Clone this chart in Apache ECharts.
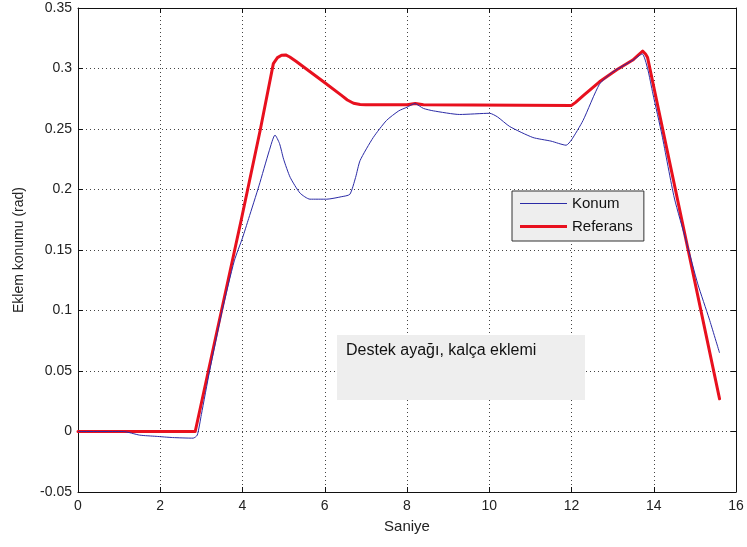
<!DOCTYPE html>
<html>
<head>
<meta charset="utf-8">
<script src="https://cdn.jsdelivr.net/npm/echarts@6/dist/echarts.min.js"></script>
<style>
  html, body { margin: 0; padding: 0; background: #ffffff; }
  #chart { width: 747px; height: 547px; }
</style>
</head>
<body>
<div id="chart"></div>
<script>
// Joint angle (rad) over time (s): measured position vs. reference trajectory
const konumTime = [0, 1.1, 1.5, 1.9, 2.3, 2.8, 2.9, 3.0, 3.2, 3.5, 3.8, 4.0, 4.15, 4.4, 4.65, 4.79, 4.9, 5.0, 5.16, 5.4, 5.64, 6.05, 6.4, 6.61, 6.75, 6.86, 7.18, 7.5, 7.8, 8.0, 8.19, 8.4, 8.64, 9.28, 10.01, 10.2, 10.5, 11.06, 11.5, 11.87, 12.0, 12.28, 12.68, 13.0, 13.5, 13.72, 13.85, 13.98, 14.2, 14.5, 14.8, 15.07, 15.35, 15.6];
const konumValue = [0, 0, -0.003, -0.004, -0.005, -0.0055, -0.003, 0.014, 0.05, 0.099, 0.141, 0.16, 0.176, 0.203, 0.232, 0.245, 0.238, 0.225, 0.21, 0.197, 0.192, 0.192, 0.194, 0.196, 0.21, 0.224, 0.243, 0.257, 0.265, 0.268, 0.271, 0.267, 0.265, 0.262, 0.263, 0.26, 0.252, 0.243, 0.24, 0.2366, 0.241, 0.257, 0.287, 0.297, 0.307, 0.312, 0.3, 0.279, 0.245, 0.193, 0.156, 0.122, 0.093, 0.065];

const referansTime = [0, 2.85, 3.97, 4.43, 4.75, 4.85, 4.95, 5.05, 5.15, 5.3, 5.97, 6.4, 6.55, 6.7, 6.86, 7.0, 8.0, 8.2, 8.4, 12.0, 12.1, 12.3, 12.68, 13.1, 13.49, 13.65, 13.73, 13.8, 13.85, 15.6];
const referansValue = [0, 0, 0.175, 0.249, 0.304, 0.309, 0.311, 0.3112, 0.3095, 0.306, 0.289, 0.278, 0.274, 0.2713, 0.2703, 0.27, 0.27, 0.271, 0.27, 0.2695, 0.272, 0.278, 0.289, 0.299, 0.307, 0.312, 0.3144, 0.312, 0.309, 0.027];

const xTicks = { min: 0, max: 16, step: 2 };
const yTicks = { min: -0.05, max: 0.35, step: 0.05 };

const seriesNames = ['Konum', 'Referans'];
const xTitle = 'Saniye';
const yTitle = 'Eklem konumu (rad)';
const noteText = 'Destek ayağı, kalça eklemi';

const pair = (xs, ys) => xs.map((x, i) => [x, ys[i]]);
const fmt = v => String(Number(v.toFixed(2)));

const font = '"Liberation Sans", Arial, sans-serif';
const axisColor = '#111111';
const blue = '#2b2ba6';
const red = '#e8101e';

function xAxis(primary) {
  return {
    type: 'value',
    position: primary ? 'bottom' : 'top',
    min: xTicks.min, max: xTicks.max, interval: xTicks.step,
    name: primary ? xTitle : '',
    nameLocation: 'middle',
    nameGap: 27,
    nameTextStyle: { fontFamily: font, fontSize: 15, color: '#222' },
    axisLine: { show: true, onZero: false, lineStyle: { color: axisColor, width: 1 } },
    axisTick: { show: true, inside: true, length: 5, lineStyle: { color: axisColor } },
    axisLabel: { show: primary, margin: 7, fontFamily: font, fontSize: 14, color: '#222', formatter: fmt },
    splitLine: primary ? { show: true, lineStyle: { color: '#444', type: [1, 3], width: 1 } } : { show: false }
  };
}

function yAxis(primary) {
  return {
    type: 'value',
    position: primary ? 'left' : 'right',
    min: yTicks.min, max: yTicks.max, interval: yTicks.step,
    name: primary ? yTitle : '',
    nameLocation: 'middle',
    nameGap: 52,
    nameTextStyle: { fontFamily: font, fontSize: 14, color: '#222' },
    axisLine: { show: true, onZero: false, lineStyle: { color: axisColor, width: 1 } },
    axisTick: { show: true, inside: true, length: 5, lineStyle: { color: axisColor } },
    axisLabel: { show: primary, margin: 6, fontFamily: font, fontSize: 14, color: '#222', formatter: fmt },
    splitLine: primary ? { show: true, lineStyle: { color: '#444', type: [1, 3], width: 1 } } : { show: false }
  };
}

const chart = echarts.init(document.getElementById('chart'), null, { renderer: 'canvas' });

chart.setOption({
  animation: false,
  backgroundColor: '#ffffff',
  grid: { left: 78, right: 11, top: 8, bottom: 55, containLabel: false },
  xAxis: [xAxis(true), xAxis(false)],
  yAxis: [yAxis(true), yAxis(false)],
  legend: {
    data: [
      { name: seriesNames[0], icon: 'path://M0,0L47,0L47,1L0,1Z' },
      { name: seriesNames[1], icon: 'path://M0,0L47,0L47,3L0,3Z' }
    ],
    orient: 'vertical',
    left: 512, top: 191,
    padding: [5, 11, 7, 8],
    itemWidth: 47, itemHeight: 14, itemGap: 8,
    backgroundColor: '#eeeeee',
    borderColor: '#333333', borderWidth: 1, borderRadius: 0,
    textStyle: { fontFamily: font, fontSize: 15, color: '#111' }
  },
  graphic: [{
    type: 'group',
    left: 337, top: 335,
    z: 10,
    children: [
      { type: 'rect', z: 10, shape: { x: 0, y: 0, width: 248, height: 65 }, style: { fill: '#eeeeee' } },
      { type: 'text', z: 11, x: 9, y: 8, style: { text: noteText, font: '16px ' + font, fill: '#111' } }
    ]
  }],
  series: [
    {
      name: seriesNames[0], type: 'line', xAxisIndex: 0, yAxisIndex: 0,
      data: pair(konumTime, konumValue),
      symbol: 'none', smooth: 0.2, z: 3,
      lineStyle: { color: blue, width: 1 },
      itemStyle: { color: blue }
    },
    {
      name: seriesNames[1], type: 'line', xAxisIndex: 0, yAxisIndex: 0,
      data: pair(referansTime, referansValue),
      symbol: 'none', smooth: false, z: 2,
      lineStyle: { color: red, width: 3, join: 'round', cap: 'round' },
      itemStyle: { color: red }
    }
  ]
});
</script>
</body>
</html>
